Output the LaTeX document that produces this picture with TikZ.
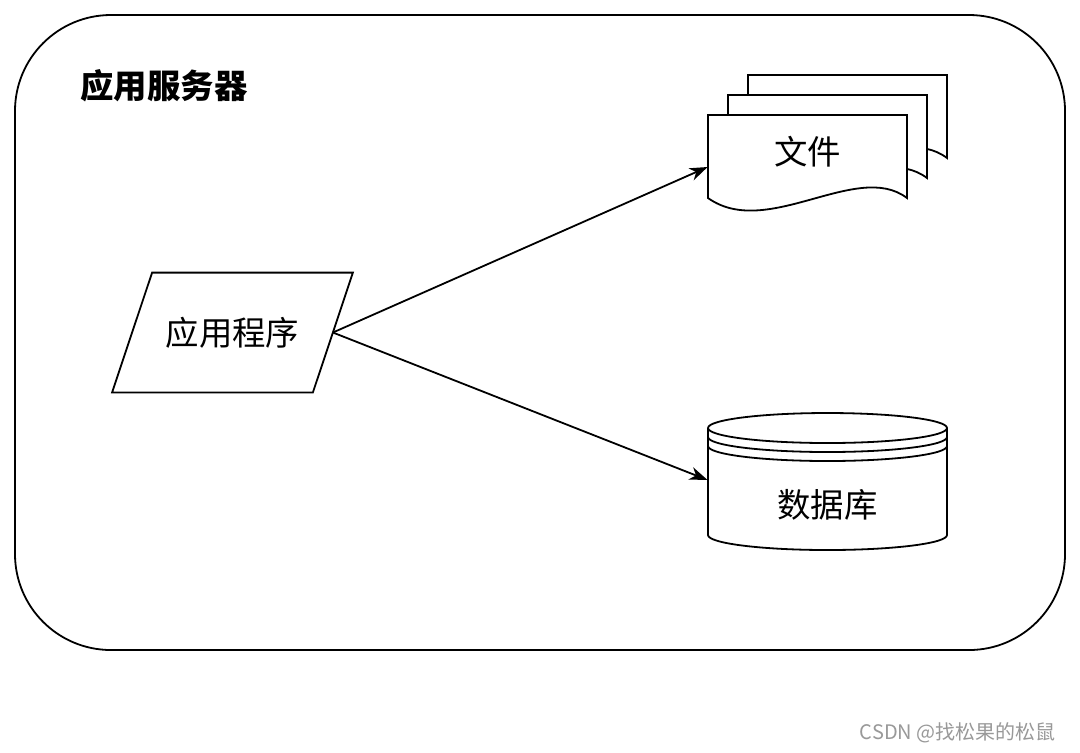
\documentclass[tikz,border=0pt]{standalone}
\usepackage{fontspec}
\setmainfont{Noto Sans CJK SC}
\usepackage{tikz}
\usetikzlibrary{positioning,arrows.meta,backgrounds}
\definecolor{MarkGray}{HTML}{999999}

\begin{document}
\begin{tikzpicture}[x=0.5pt, y=-0.5pt,
  outline/.style={draw=black, line width=0.9pt},
  lbl/.style={inner sep=0pt, font=\fontsize{16.7pt}{20pt}\selectfont},
  arr/.style={-{Stealth[length=9pt, width=6.5pt, inset=2.8pt]}, line width=0.9pt}]
\useasboundingbox (0,0) rectangle (1080,752);
\draw[outline, rounded corners=48pt] (15,15) rectangle (1065,650);
\node[lbl, font=\fontsize{16.7pt}{20pt}\selectfont\bfseries, anchor=west] (srv) at (80,86) {应用服务器};
\node[lbl, minimum width=100pt, minimum height=59.5pt] (app) at (232.5,332.5) {应用程序};
\node[lbl, minimum width=99.5pt] (file) at (807.5,152) {文件};
\node[lbl, minimum width=119.5pt] (db) at (827.5,505) {数据库};
\node[lbl, font=\fontsize{10pt}{12pt}\selectfont, text=MarkGray, anchor=east] (mark) at (1056,733) {CSDN @找松果的松鼠};
% parallelogram round the program
\draw[outline] ([xshift=-10pt]app.south west) -- ([xshift=10pt]app.north west)
  -- ([xshift=10pt]app.north east) -- ([xshift=-10pt]app.south east) -- cycle;
% stacked documents, back to front
\begin{scope}[on background layer]
\fill[white] (0,0) rectangle (1080,752);
\foreach \off in {40,20,0}
  \draw[outline, fill=white] ([shift={(\off,-\off)}]file.center) ++(-99.5,46) -- ++(0,-83) -- ++(199,0) -- ++(0,83)
    .. controls +(-50,-38) and +(59,42) .. ++(-199,0) -- cycle;
\end{scope}
% database drum
\draw[outline] ([shift={(-119.5,-77)}]db.center) -- ++(0,107)
  arc[start angle=180, end angle=360, x radius=59.75pt, y radius=7.5pt] -- ++(0,-107)
  arc[start angle=0, end angle=360, x radius=59.75pt, y radius=7.5pt];
\foreach \s in {9,18}
  \draw[outline] ([shift={(-119.5,-77+\s)}]db.center) arc[start angle=180, end angle=360, x radius=59.75pt, y radius=7.5pt];
\draw[arr] (app.east) -- ([yshift=-7.5pt]file.west);
\draw[arr] (app.east) -- ([yshift=12.5pt]db.west);
\end{tikzpicture}
\end{document}
